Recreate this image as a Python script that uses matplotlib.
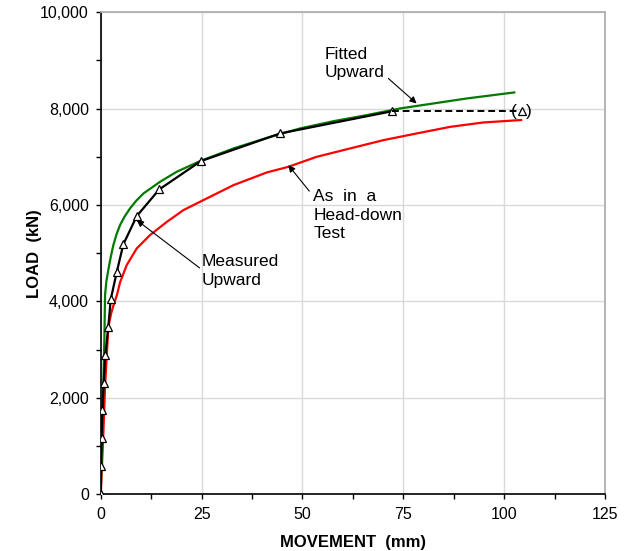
import matplotlib
matplotlib.use("Agg")
import matplotlib.pyplot as plt
from matplotlib.ticker import MultipleLocator, FuncFormatter

plt.rcParams['font.family'] = ['Liberation Sans', 'DejaVu Sans']

# Measured upward (mm, kN)
meas_x = [0, 0.07, 0.25, 0.40, 0.74, 1.14, 1.88, 2.48, 3.97, 5.6, 8.92, 14.5, 24.8, 44.5, 72.1]
meas_y = [0, 587, 1168, 1742, 2314, 2895, 3476, 4044, 4610, 5185, 5771, 6325, 6912, 7487, 7945]
# Extrapolated (dashed) point
ext_x = [72.1, 104.5]
ext_y = [7945, 7945]

# Fitted upward curve
fit_x = [0, 0.4, 0.65, 0.9, 1.07, 1.4, 1.89, 2.5, 3.13, 3.9, 4.78, 5.9, 7.26, 8.8, 10.6, 14.7, 18.8,
         24.6, 32.9, 41.2, 49.4, 57.7, 65.9, 74.2, 82.5, 90.7, 102.5]
fit_y = [0, 1265, 2302, 3200, 4133, 4420, 4660, 4930, 5170, 5390, 5585, 5760, 5931, 6090, 6242, 6483,
         6690, 6912, 7175, 7395, 7590, 7741, 7866, 8005, 8109, 8212, 8337]

# As in a head-down test
hd_x = [0, 0.65, 1.07, 1.9, 2.6, 3.2, 4.0, 4.8, 6.44, 8.92, 12.2, 16.4, 20.5, 24.6, 32.9, 41.2, 46.5,
        53.5, 61.8, 70.1, 78.3, 86.6, 94.8, 104.2]
hd_y = [0, 1265, 2232, 3476, 3760, 3930, 4130, 4400, 4755, 5101, 5377, 5653, 5896, 6068, 6414, 6678,
        6794, 7001, 7175, 7348, 7486, 7623, 7714, 7765]

fig = plt.figure(figsize=(6.28, 5.51), dpi=100)
ax = fig.add_axes([0.1604, 0.1029, 0.9634 - 0.1604, 0.9777 - 0.1029])

ax.plot(hd_x, hd_y, color='#ff0000', lw=1.6, zorder=3)
ax.plot(fit_x, fit_y, color='#007a00', lw=1.6, zorder=4)
ax.plot(meas_x, meas_y, color='black', lw=1.6, marker='^', ms=5.5, mfc='white', mec='black', mew=0.9, zorder=5)
ax.plot(ext_x, ext_y, color='black', lw=1.4, ls=(0, (3.5, 2)), zorder=5)
ax.plot(ext_x[1:], ext_y[1:], ls='none', marker='^', ms=5.5, mfc='white', mec='black', mew=0.9, zorder=6)
ax.text(ext_x[1] - 2.0, ext_y[1], '(', ha='center', va='center', fontsize=12.5, zorder=7)
ax.text(ext_x[1] + 1.5, ext_y[1], ')', ha='center', va='center', fontsize=12.5, zorder=7)

ax.set_xlim(0, 125)
ax.set_ylim(0, 10000)
ax.xaxis.set_major_locator(MultipleLocator(25))
ax.xaxis.set_minor_locator(MultipleLocator(12.5))
ax.yaxis.set_major_locator(MultipleLocator(2000))
ax.yaxis.set_minor_locator(MultipleLocator(1000))
ax.yaxis.set_major_formatter(FuncFormatter(lambda v, p: f"{int(v):,}"))
ax.grid(True, which='major', color='#d9d9d9', lw=1.0, zorder=0)
ax.set_axisbelow(True)
ax.tick_params(which='both', direction='out', length=3.5, width=1, color='black', labelsize=11.5)
ax.tick_params(axis='x', pad=6)
ax.tick_params(axis='y', pad=5)
for s in ['top', 'right']:
    ax.spines[s].set_color('#b0b0b0')
    ax.spines[s].set_linewidth(1.3)
for s in ['left', 'bottom']:
    ax.spines[s].set_color('black')
    ax.spines[s].set_linewidth(1.2)

ax.set_xlabel('MOVEMENT  (mm)', fontsize=12, fontweight='bold', labelpad=9)
ax.set_ylabel('LOAD  (kN)', fontsize=12, fontweight='bold', labelpad=-1)

ap = dict(arrowstyle='-|>', color='black', lw=0.8, mutation_scale=10, shrinkA=0, shrinkB=0)
ax.text(55.4, 9290, 'Fitted\nUpward', fontsize=12.5, ha='left', va='top', linespacing=1.3)
ax.annotate('', xy=(78.3, 8109), xytext=(71.3, 8627), arrowprops=ap)
ax.text(52.7, 6330, 'As  in  a\nHead-down\nTest', fontsize=12.5, ha='left', va='top', linespacing=1.3)
ax.annotate('', xy=(46.5, 6829), xytext=(51.7, 6290), arrowprops=ap)
ax.text(24.9, 4980, 'Measured\nUpward', fontsize=12.5, ha='left', va='top', linespacing=1.3)
ax.annotate('', xy=(8.9, 5689), xytext=(24.5, 4697), arrowprops=ap)

fig.savefig('out.png', dpi=100)
